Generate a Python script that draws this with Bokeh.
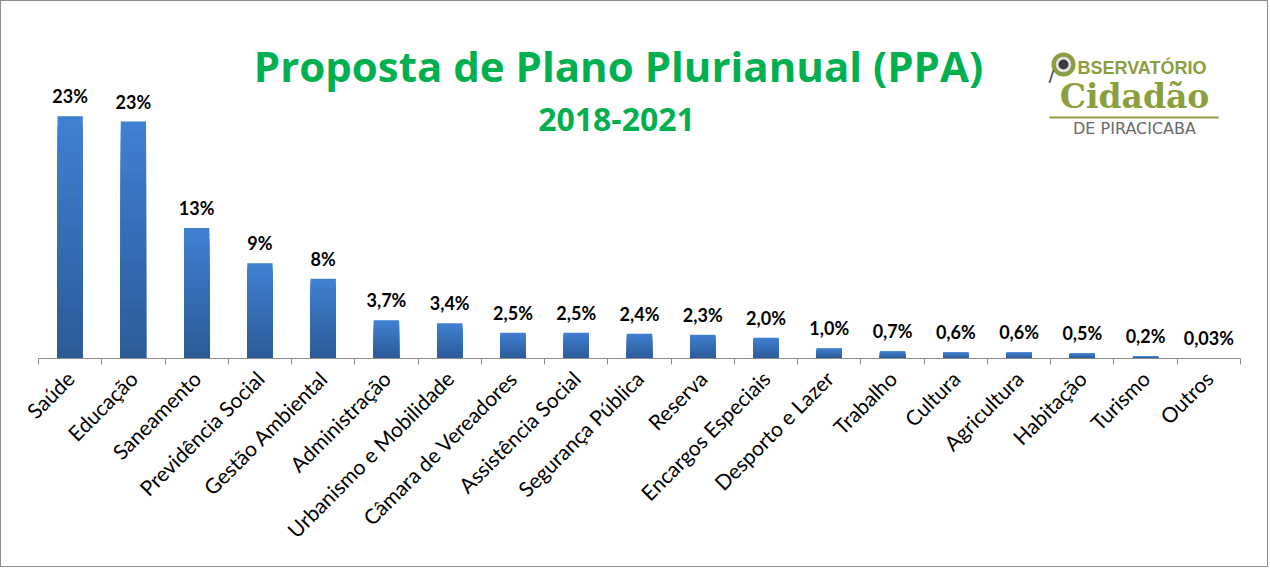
from math import pi
from bokeh.plotting import figure
from bokeh.models import (ColumnDataSource, FixedTicker, LabelSet, Label,
                          BoxAnnotation, Range1d)
from bokeh.core.properties import value
from bokeh.embed import file_html
from bokeh.resources import INLINE

# ---------------- data ----------------
categories = ["Saúde", "Educação", "Saneamento", "Previdência Social",
              "Gestão Ambiental", "Administração", "Urbanismo e Mobilidade",
              "Câmara de Vereadores", "Assistência Social", "Segurança Pública",
              "Reserva", "Encargos Especiais", "Desporto e Lazer", "Trabalho",
              "Cultura", "Agricultura", "Habitação", "Turismo", "Outros"]
shares = [23.4, 22.9, 12.6, 9.2, 7.7, 3.7, 3.4, 2.5, 2.5, 2.4, 2.3, 2.0,
          1.0, 0.7, 0.6, 0.6, 0.5, 0.2, 0.03]
share_labels = ["23%", "23%", "13%", "9%", "8%", "3,7%", "3,4%", "2,5%",
                "2,5%", "2,4%", "2,3%", "2,0%", "1,0%", "0,7%", "0,6%",
                "0,6%", "0,5%", "0,2%", "0,03%"]
title_text = "Proposta de Plano Plurianual (PPA)"
subtitle_text = "2018-2021"

# ---------------- figure ----------------
W, H = 1268, 567
p = figure(width=W, height=H, output_backend="svg", toolbar_location=None,
           x_range=Range1d(0, len(categories)), y_range=Range1d(0, 34.5),
           min_border_left=37, min_border_right=29, min_border_top=0,
           min_border_bottom=210, background_fill_color="white",
           border_fill_color="white", outline_line_color=None,
           styles={"border": "1px solid #8c8c8c"})
p.grid.visible = False
p.yaxis.visible = False

centers = [i + 0.5 for i in range(len(categories))]

# gradient bars: stacked layers, lighter at top, darker toward the base
top_rgb = (0x40, 0x80, 0xD2)
bot_rgb = (0x2C, 0x5B, 0x98)
N = 24
for j in range(N):
    t = j / (N - 1)
    c = "#%02x%02x%02x" % tuple(int(round(a + (b - a) * t)) for a, b in zip(top_rgb, bot_rgb))
    frac = 1 - j / N
    p.vbar(x=centers, top=[v * frac for v in shares], bottom=0, width=0.4,
           fill_color=c, line_color=None)

src = ColumnDataSource(dict(x=centers, top=shares, label=share_labels))
p.add_layout(LabelSet(x="x", y="top", text="label", source=src,
                      text_align="center", text_baseline="alphabetic",
                      y_offset=13, text_font=value("Lato"),
                      text_font_style="bold", text_font_size="18px",
                      text_color="#000000"))

# x axis: labels at centres, tick marks at category boundaries
ax = p.xaxis[0]
ax.ticker = FixedTicker(ticks=centers, minor_ticks=list(range(len(categories) + 1)))
ax.major_label_overrides = {c: n for c, n in zip(centers, categories)}
ax.major_label_orientation = pi / 4
ax.major_tick_out = 0
ax.major_tick_in = 0
ax.minor_tick_out = 6
ax.minor_tick_in = 0
ax.axis_line_color = "#8c8c8c"
ax.minor_tick_line_color = "#8c8c8c"
ax.major_label_standoff = 10
ax.major_label_text_font = "Lato"
ax.major_label_text_font_size = "21px"
ax.major_label_text_color = "#000000"

# screen helpers (image px -> frame-relative screen units)
def fx(ix):
    return ix - 1 - 37

def fy(iy):
    return 358 - iy

def lab(text, x, base, size, font, color, bold=True, align="center"):
    # base = wanted baseline (image px); compensate for text box offset
    return Label(x=fx(x), y=fy(base - 0.35 * size), x_units="screen", y_units="screen",
                 text=text, text_align=align, text_baseline="alphabetic",
                 text_font=font, text_font_style="bold" if bold else "normal",
                 text_font_size=f"{size}px", text_color=color)

GREEN = "#00B050"
p.add_layout(lab(title_text, 618, 80, 42, "Open Sans", GREEN))
p.add_layout(lab(subtitle_text, 616, 130, 32, "Open Sans", GREEN))

# ---------------- logo ----------------
OLIVE = "#8aa03c"

def box(l, r, t, b, **kw):
    return BoxAnnotation(left=fx(l), right=fx(r), top=fy(t), bottom=fy(b),
                         left_units="screen", right_units="screen",
                         top_units="screen", bottom_units="screen", **kw)

p.add_layout(box(1051, 1075, 52, 76, fill_color=OLIVE, fill_alpha=1,
                 line_color=None, border_radius=12))
p.add_layout(box(1055, 1071, 56, 72, fill_color="#e8e8e8", fill_alpha=1,
                 line_color="#6a6a6a", line_width=1.5, border_radius=8))
p.add_layout(box(1058, 1068, 59, 69, fill_color="#3a3a3a", fill_alpha=1,
                 line_color=None, border_radius=5))
p.add_layout(lab("/", 1051, 82, 16, "DejaVu Sans", "#505050"))
p.add_layout(lab("BSERVATÓRIO", 1077, 74, 18, "Liberation Sans", OLIVE, align="left"))
p.add_layout(lab("Cidadão", 1134, 108, 33, "DejaVu Serif", OLIVE))
p.add_layout(box(1049, 1218, 116, 118, fill_color=OLIVE, fill_alpha=1, line_color=None))
p.add_layout(lab("DE PIRACICABA", 1134, 134, 16, "DejaVu Sans", "#6a6a6a", bold=False))

open("out.html", "w").write(file_html(p, INLINE))
